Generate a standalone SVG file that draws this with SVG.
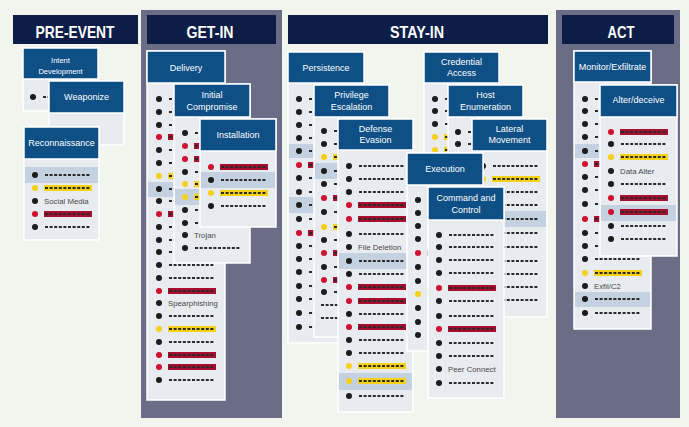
<svg xmlns="http://www.w3.org/2000/svg" width="689" height="427" viewBox="0 0 689 427">
<style>
.bg{fill:#f2f4ee}
.col{fill:#6b6d86}
.colh{fill:#0c1d47}
.colt{fill:#fff;font-family:"Liberation Sans",Arial,sans-serif;font-weight:bold;font-size:17px;text-anchor:middle}
.body{fill:#e8ebf0;stroke:#fff;stroke-width:1.5}
.hdr{fill:#0e4f86;stroke:#fff;stroke-width:1.5}
.ht{fill:#fff;font-family:"Liberation Sans",Arial,sans-serif;font-size:9px;text-anchor:middle}
.hl{fill:#c4d1e0}
.dk{fill:#1c1c1c}
.rd{fill:#d0102e}
.yl{fill:#f7d117}
.rbar{fill:#a80f2e}
.ybar{fill:#f7d117}
.ds{stroke:#2a2a2a;stroke-width:2.2;stroke-dasharray:3 1.6;fill:none}
.rt{fill:#4a4a4a;font-family:"Liberation Sans",Arial,sans-serif;font-size:7.8px}
</style>
<defs>
<g id="rb"><circle r="3" class="dk"/><line x1="10" y1="0" x2="56" y2="0" class="ds"/></g>
<g id="rr"><circle r="3" class="rd"/><rect x="9" y="-3" width="48" height="6" class="rbar"/><line x1="10" y1="0" x2="56" y2="0" class="ds"/></g>
<g id="ry"><circle r="3" class="yl"/><rect x="9" y="-3" width="48" height="6" class="ybar"/><line x1="10" y1="0" x2="56" y2="0" class="ds"/></g>
<g id="rn"><line x1="-3" y1="0" x2="56" y2="0" class="ds"/></g>
<circle id="db" r="3" class="dk"/>
</defs>
<rect class="bg" x="0" y="0" width="689" height="427"/>

<!-- columns -->
<g id="col-pre-event">
<rect class="colh" x="13" y="15" width="125" height="29"/>
<text class="colt" x="75" y="38" textLength="79" lengthAdjust="spacingAndGlyphs">PRE-EVENT</text>
</g>
<g id="col-get-in">
<rect class="col" x="141" y="10" width="141" height="408"/>
<rect class="colh" x="147" y="15" width="129" height="29"/>
<text class="colt" x="210" y="38" textLength="47" lengthAdjust="spacingAndGlyphs">GET-IN</text>
</g>
<g id="col-stay-in">
<rect class="colh" x="288" y="15" width="260" height="29"/>
<text class="colt" x="417" y="38" textLength="54" lengthAdjust="spacingAndGlyphs">STAY-IN</text>
</g>
<g id="col-act">
<rect class="col" x="556" y="10" width="124" height="408"/>
<rect class="colh" x="562" y="15" width="112" height="29"/>
<text class="colt" x="621" y="38" textLength="27" lengthAdjust="spacingAndGlyphs">ACT</text>
</g>

<!-- PRE-EVENT cards -->
<g id="intent-development">
<rect class="body" x="23" y="48" width="75" height="63"/>
<rect class="hdr" x="23" y="48" width="75" height="31"/>
<text class="ht" x="60.5" y="62.5" style="font-size:7.5px">Intent</text>
<text class="ht" x="60.5" y="73.5" style="font-size:7.5px">Development</text>
<use href="#rb" x="33" y="97"/>
</g>
<g id="weaponize">
<rect class="body" x="49" y="81" width="75" height="64"/>
<rect class="hdr" x="49" y="81" width="75" height="32"/>
<text class="ht" x="86.5" y="99.5">Weaponize</text>
</g>
<g id="reconnaissance">
<rect class="body" x="24" y="127" width="75" height="113"/>
<rect class="hdr" x="24" y="127" width="75" height="32"/>
<text class="ht" x="61.5" y="145.5">Reconnaissance</text>
<rect class="hl" x="25" y="167" width="73" height="16"/>
<use href="#rb" x="35" y="175"/>
<use href="#ry" x="35" y="188"/>
<use href="#db" x="35" y="201"/><text class="rt" x="44" y="203.8">Social Media</text>
<use href="#rr" x="35" y="214"/>
<use href="#rb" x="35" y="227"/>
</g>

<!-- GET-IN cards -->
<g id="delivery">
<rect class="body" x="147" y="51" width="78" height="349"/>
<rect class="hdr" x="147" y="51" width="78" height="32"/>
<text class="ht" x="186" y="70.5">Delivery</text>
<rect class="hl" x="148" y="182" width="76" height="15"/>
<use href="#rb" x="159" y="99"/>
<use href="#rb" x="159" y="112"/>
<use href="#rb" x="159" y="125"/>
<use href="#rr" x="159" y="137"/>
<use href="#rb" x="159" y="150"/>
<use href="#rb" x="159" y="163"/>
<use href="#ry" x="159" y="176"/>
<use href="#rb" x="159" y="189"/>
<use href="#rb" x="159" y="201"/>
<use href="#rr" x="159" y="214"/>
<use href="#rb" x="159" y="227"/>
<use href="#rb" x="159" y="240"/>
<use href="#rb" x="159" y="252"/>
<use href="#rb" x="159" y="265"/>
<use href="#rb" x="159" y="278"/>
<use href="#rr" x="159" y="291"/>
<use href="#db" x="159" y="303"/><text class="rt" x="168" y="305.8">Spearphishing</text>
<use href="#rb" x="159" y="316"/>
<use href="#ry" x="159" y="329"/>
<use href="#rb" x="159" y="342"/>
<use href="#rr" x="159" y="355"/>
<use href="#rr" x="159" y="367"/>
<use href="#rb" x="159" y="380"/>
</g>
<g id="initial-compromise">
<rect class="body" x="174" y="84" width="76" height="179"/>
<rect class="hdr" x="174" y="84" width="76" height="33"/>
<text class="ht" x="212" y="98">Initial</text>
<text class="ht" x="212" y="110">Compromise</text>
<rect class="hl" x="175" y="189" width="74" height="16"/>
<use href="#rb" x="185" y="133"/>
<use href="#rr" x="185" y="146"/>
<use href="#rr" x="185" y="159"/>
<use href="#rb" x="185" y="172"/>
<use href="#ry" x="185" y="184"/>
<use href="#ry" x="185" y="197"/>
<use href="#rb" x="185" y="210"/>
<use href="#rb" x="185" y="223"/>
<use href="#db" x="185" y="235"/><text class="rt" x="194" y="237.8">Trojan</text>
<use href="#rb" x="185" y="248"/>
</g>
<g id="installation">
<rect class="body" x="200" y="119" width="76" height="108"/>
<rect class="hdr" x="200" y="119" width="76" height="32"/>
<text class="ht" x="238" y="137.5">Installation</text>
<rect class="hl" x="201" y="172" width="74" height="16"/>
<use href="#rr" x="211" y="167"/>
<use href="#rb" x="211" y="180"/>
<use href="#ry" x="211" y="193"/>
<use href="#rb" x="211" y="206"/>
</g>

<!-- STAY-IN cards -->
<g id="persistence">
<rect class="body" x="288" y="52" width="76" height="291"/>
<rect class="hdr" x="288" y="52" width="76" height="31"/>
<text class="ht" x="326" y="70.5">Persistence</text>
<rect class="hl" x="289" y="144" width="74" height="14"/>
<rect class="hl" x="289" y="197" width="74" height="16"/>
<use href="#rb" x="299" y="99"/>
<use href="#rb" x="299" y="112"/>
<use href="#rb" x="299" y="125"/>
<use href="#rb" x="299" y="138"/>
<use href="#rb" x="299" y="151"/>
<use href="#rr" x="299" y="165"/>
<use href="#rb" x="299" y="178"/>
<use href="#rb" x="299" y="192"/>
<use href="#rb" x="299" y="205"/>
<use href="#rb" x="299" y="219"/>
<use href="#rr" x="299" y="233"/>
<use href="#rb" x="299" y="246"/>
<use href="#rb" x="299" y="259"/>
<use href="#rb" x="299" y="272"/>
<use href="#rb" x="299" y="286"/>
<use href="#rb" x="299" y="299"/>
<use href="#rb" x="299" y="313"/>
<use href="#rb" x="299" y="327"/>
</g>
<g id="privilege-escalation">
<rect class="body" x="314" y="85" width="75" height="252"/>
<rect class="hdr" x="314" y="85" width="75" height="32"/>
<text class="ht" x="351.5" y="98">Privilege</text>
<text class="ht" x="351.5" y="110">Escalation</text>
<rect class="hl" x="315" y="163" width="73" height="16"/>
<use href="#rb" x="324" y="131"/>
<use href="#rb" x="324" y="144"/>
<use href="#ry" x="324" y="157"/>
<use href="#rb" x="324" y="171"/>
<use href="#rb" x="324" y="184"/>
<use href="#rr" x="324" y="198"/>
<use href="#rb" x="324" y="212"/>
<use href="#ry" x="324" y="227"/>
<use href="#rb" x="324" y="240"/>
<use href="#rr" x="324" y="253"/>
<use href="#rb" x="324" y="267"/>
<use href="#rr" x="324" y="280"/>
<use href="#rb" x="324" y="292"/>
<use href="#rn" x="324" y="305"/>
<use href="#rn" x="324" y="318"/>
</g>
<g id="defense-evasion">
<rect class="body" x="338" y="119" width="75" height="293"/>
<rect class="hdr" x="338" y="119" width="75" height="31"/>
<text class="ht" x="375.5" y="132">Defense</text>
<text class="ht" x="375.5" y="143">Evasion</text>
<rect class="hl" x="339" y="253" width="73" height="16"/>
<rect class="hl" x="339" y="373" width="73" height="17"/>
<use href="#rb" x="349" y="166"/>
<use href="#rb" x="349" y="179"/>
<use href="#rb" x="349" y="192"/>
<use href="#rr" x="349" y="205"/>
<use href="#rr" x="349" y="219"/>
<use href="#rb" x="349" y="234"/>
<use href="#db" x="349" y="247"/><text class="rt" x="358" y="249.8">File Deletion</text>
<use href="#rb" x="349" y="261"/>
<use href="#rb" x="349" y="274"/>
<use href="#rr" x="349" y="287"/>
<use href="#rr" x="349" y="301"/>
<use href="#rb" x="349" y="314"/>
<use href="#rr" x="349" y="327"/>
<use href="#rb" x="349" y="340"/>
<use href="#rb" x="349" y="353"/>
<use href="#ry" x="349" y="366"/>
<use href="#ry" x="349" y="381"/>
<use href="#rb" x="349" y="396"/>
</g>
<g id="credential-access">
<rect class="body" x="424" y="52" width="75" height="248"/>
<rect class="hdr" x="424" y="52" width="75" height="31"/>
<text class="ht" x="461.5" y="65">Credential</text>
<text class="ht" x="461.5" y="76">Access</text>
<use href="#rb" x="435" y="99"/>
<use href="#rb" x="435" y="111"/>
<use href="#rb" x="435" y="124"/>
<use href="#ry" x="435" y="137"/>
<use href="#ry" x="435" y="150"/>
</g>
<g id="host-enumeration">
<rect class="body" x="448" y="85" width="75" height="215"/>
<rect class="hdr" x="448" y="85" width="75" height="32"/>
<text class="ht" x="485.5" y="98">Host</text>
<text class="ht" x="485.5" y="110">Enumeration</text>
<use href="#rb" x="458" y="132"/>
<use href="#rb" x="458" y="144"/>
</g>
<g id="lateral-movement">
<rect class="body" x="472" y="119" width="75" height="198"/>
<rect class="hdr" x="472" y="119" width="75" height="32"/>
<text class="ht" x="509.5" y="132">Lateral</text>
<text class="ht" x="509.5" y="143">Movement</text>
<rect class="hl" x="473" y="211" width="73" height="16"/>
<use href="#rb" x="483" y="166"/>
<use href="#ry" x="483" y="179"/>
<use href="#rb" x="483" y="192"/>
<use href="#rb" x="483" y="205"/>
<use href="#rb" x="483" y="219"/>
<use href="#rb" x="483" y="233"/>
<use href="#rb" x="483" y="247"/>
<use href="#rb" x="483" y="261"/>
<use href="#rb" x="483" y="274"/>
<use href="#rb" x="483" y="287"/>
<use href="#rb" x="483" y="300"/>
</g>
<g id="execution">
<rect class="body" x="407" y="153" width="76" height="198"/>
<rect class="hdr" x="407" y="153" width="76" height="32"/>
<text class="ht" x="445" y="171.5">Execution</text>
<use href="#rb" x="418" y="200"/>
<use href="#rb" x="418" y="213"/>
<use href="#rb" x="418" y="226"/>
<use href="#rb" x="418" y="239"/>
<use href="#rr" x="418" y="253"/>
<use href="#rb" x="418" y="267"/>
<use href="#rb" x="418" y="281"/>
<use href="#ry" x="418" y="294"/>
<use href="#rb" x="418" y="308"/>
<use href="#rb" x="418" y="322"/>
<use href="#rb" x="418" y="335"/>
</g>
<g id="command-and-control">
<rect class="body" x="428" y="187" width="76" height="211"/>
<rect class="hdr" x="428" y="187" width="76" height="33"/>
<text class="ht" x="466" y="201">Command and</text>
<text class="ht" x="466" y="212.5">Control</text>
<use href="#rb" x="439" y="235"/>
<use href="#rb" x="439" y="247"/>
<use href="#rb" x="439" y="260"/>
<use href="#rb" x="439" y="273"/>
<use href="#rr" x="439" y="288"/>
<use href="#rb" x="439" y="301"/>
<use href="#rb" x="439" y="316"/>
<use href="#rr" x="439" y="329"/>
<use href="#rb" x="439" y="343"/>
<use href="#rb" x="439" y="356"/>
<use href="#db" x="439" y="369"/><text class="rt" x="448" y="371.8">Peer Connect</text>
<use href="#rb" x="439" y="383"/>
</g>

<!-- ACT cards -->
<g id="monitor-exfiltrate">
<rect class="body" x="574" y="51" width="77" height="278"/>
<rect class="hdr" x="574" y="51" width="77" height="31"/>
<text class="ht" x="612.5" y="70">Monitor/Exfiltrate</text>
<rect class="hl" x="575" y="144" width="75" height="14"/>
<rect class="hl" x="575" y="292" width="75" height="15"/>
<use href="#rb" x="585" y="99"/>
<use href="#rb" x="585" y="111"/>
<use href="#rb" x="585" y="124"/>
<use href="#rb" x="585" y="137"/>
<use href="#rb" x="585" y="151"/>
<use href="#rr" x="585" y="164"/>
<use href="#rb" x="585" y="177"/>
<use href="#rb" x="585" y="190"/>
<use href="#rb" x="585" y="204"/>
<use href="#rr" x="585" y="219"/>
<use href="#rb" x="585" y="233"/>
<use href="#rb" x="585" y="246"/>
<use href="#rb" x="585" y="259"/>
<use href="#ry" x="585" y="273"/>
<use href="#db" x="585" y="286"/><text class="rt" x="594" y="288.8">Exfil/C2</text>
<use href="#rb" x="585" y="299"/>
<use href="#rb" x="585" y="313"/>
</g>
<g id="alter-deceive">
<rect class="body" x="600" y="85" width="77" height="171"/>
<rect class="hdr" x="600" y="85" width="77" height="32"/>
<text class="ht" x="638.5" y="103">Alter/deceive</text>
<rect class="hl" x="601" y="205" width="75" height="16"/>
<use href="#rr" x="611" y="132"/>
<use href="#rb" x="611" y="144"/>
<use href="#ry" x="611" y="157"/>
<use href="#db" x="611" y="171"/><text class="rt" x="620" y="173.8">Data Alter</text>
<use href="#rb" x="611" y="184"/>
<use href="#rr" x="611" y="198"/>
<use href="#rr" x="611" y="212"/>
<use href="#rb" x="611" y="226"/>
<use href="#rb" x="611" y="239"/>
</g>
<g id="connectors"/>
</svg>
